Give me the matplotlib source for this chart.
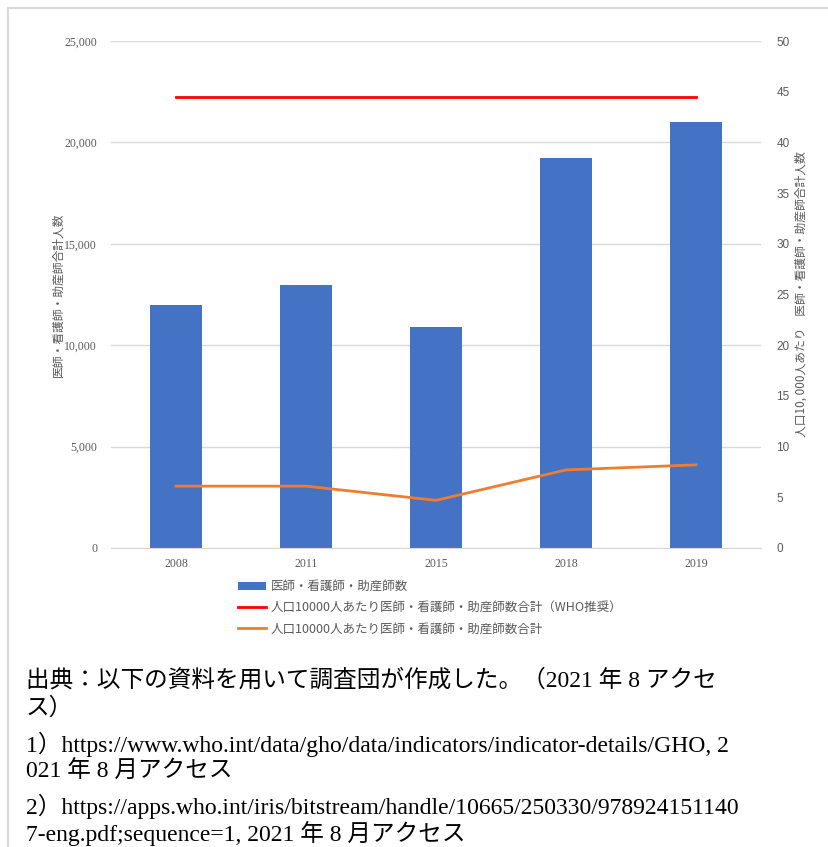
import matplotlib
matplotlib.use('Agg')
import matplotlib.pyplot as plt
import matplotlib.patches as mpatches
from matplotlib.ticker import FuncFormatter
import numpy as np

# data
years = ['2008', '2011', '2015', '2018', '2019']
workers = [12000, 12950, 10900, 19250, 21000]          # 医師・看護師・助産師数
who_recommend = [44.5, 44.5, 44.5, 44.5, 44.5]          # WHO推奨 (per 10,000)
per_10000 = [6.1, 6.1, 4.7, 7.7, 8.2]                   # 人口10000人あたり

left_label = '医師・看護師・助産師合計人数'
right_label = '人口10, 000人あたり　医師・看護師・助産師合計人数'
legend_labels = ['医師・看護師・助産師数',
                 '人口10000人あたり医師・看護師・助産師数合計（WHO推奨）',
                 '人口10000人あたり医師・看護師・助産師数合計']
footnote_lines = ['出典：以下の資料を用いて調査団が作成した。（2021 年 8 アクセ',
                  'ス）',
                  '1）https://www.who.int/data/gho/data/indicators/indicator-details/GHO, 2',
                  '021 年 8 月アクセス',
                  '2）https://apps.who.int/iris/bitstream/handle/10665/250330/978924151140',
                  '7-eng.pdf;sequence=1, 2021 年 8 月アクセス']

SERIF_JP = ['Liberation Serif', 'Noto Sans CJK JP']
SANS_JP = ['Noto Sans CJK JP', 'DejaVu Sans']
GREY = '#595959'

fig = plt.figure(figsize=(8.29, 8.47), dpi=100)

# light frame around the chart (left + top edges visible)
fig.patches.append(mpatches.Rectangle((8 / 829, -0.1), 1.2, 1 - 8 / 847 + 0.1,
                                      transform=fig.transFigure, fill=False,
                                      edgecolor='#d9d9d9', linewidth=1.5))

ax = fig.add_axes([111 / 829, 299 / 847, 650 / 829, 507 / 847])
x = np.arange(len(years))

ax.bar(x, workers, width=0.4, color='#4472C4', zorder=2, label=legend_labels[0])
ax.set_ylim(0, 25000)
ax.set_xlim(-0.5, len(years) - 0.5)
ax.set_yticks(np.arange(0, 25001, 5000))
ax.yaxis.set_major_formatter(FuncFormatter(lambda v, p: f'{int(v):,}'))
ax.grid(axis='y', color='#d9d9d9', linewidth=1, zorder=0)
ax.set_axisbelow(True)
for s in ax.spines.values():
    s.set_visible(False)
ax.spines['bottom'].set_visible(True)
ax.spines['bottom'].set_color('#d9d9d9')
ax.tick_params(axis='both', length=0, colors=GREY, labelsize=8.5)
ax.set_xticks(x)
ax.set_xticklabels(years, family='Liberation Serif')
for t in ax.get_yticklabels():
    t.set_family('Liberation Serif')
ax.tick_params(axis='y', pad=10)
ax.tick_params(axis='x', pad=7)
ax.set_ylabel(left_label, family=SERIF_JP, color=GREY, fontsize=8.5, labelpad=0)

ax2 = ax.twinx()
ax2.plot(x, who_recommend, color='#FF0000', linewidth=2, label=legend_labels[1])
ax2.plot(x, per_10000, color='#ED7D31', linewidth=2, label=legend_labels[2])
ax2.set_ylim(0, 50)
ax2.set_yticks(np.arange(0, 51, 5))
for s in ax2.spines.values():
    s.set_visible(False)
ax2.tick_params(axis='y', length=0, colors=GREY, labelsize=8.5, pad=11)
for t in ax2.get_yticklabels():
    t.set_family('Liberation Sans')
ax2.set_ylabel(right_label, family=SANS_JP, color=GREY, fontsize=8.5, labelpad=4)

h1, l1 = ax.get_legend_handles_labels()
h2, l2 = ax2.get_legend_handles_labels()
fig.legend(h1 + h2, l1 + l2, loc='upper left', bbox_to_anchor=(238 / 829, 1 - 580 / 847),
           frameon=False, prop={'family': SANS_JP, 'size': 9}, labelcolor=GREY,
           handlelength=2.2, handleheight=0.6, labelspacing=0.65, handletextpad=0.4,
           borderpad=0, borderaxespad=0)

ys = [680, 708, 744, 772, 806, 834]
for line, y in zip(footnote_lines, ys):
    fig.text(26 / 829, 1 - y / 847, line, family=SERIF_JP, fontsize=17,
             va='center', ha='left', color='black')

fig.savefig('out.png', dpi=100)
